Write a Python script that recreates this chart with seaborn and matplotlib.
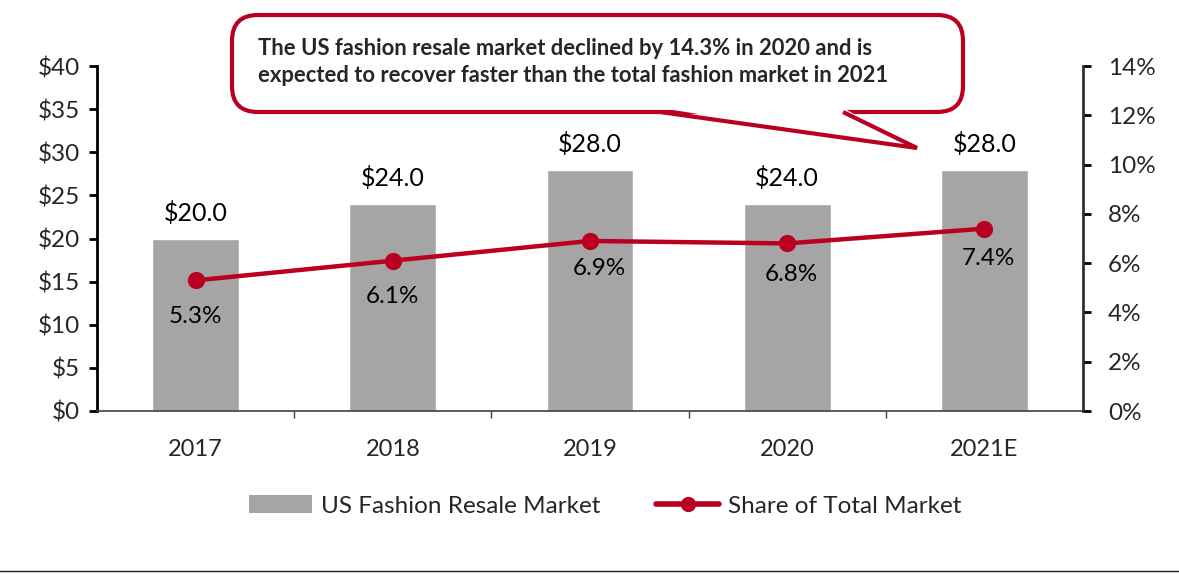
import numpy as np
import pandas as pd
import seaborn as sns
import matplotlib.pyplot as plt
from matplotlib.patches import FancyBboxPatch, Polygon
from matplotlib.lines import Line2D
from matplotlib.patches import Patch
from matplotlib.ticker import FuncFormatter, MultipleLocator, FixedLocator

# --- data ---
years = ["2017", "2018", "2019", "2020", "2021E"]
resale_market = [20.0, 24.0, 28.0, 24.0, 28.0]      # US$ bn
share_of_total = [5.3, 6.1, 6.9, 6.8, 7.4]          # %
callout_text = ("The US fashion resale market declined by 14.3% in 2020 and is\n"
                "expected to recover faster than the total fashion market in 2021")

BAR_COLOR = "#A5A5A5"
RED = "#BA0020"

# label offsets below the points (points), just styling
pct_offsets = [(0, -26), (0, -26), (7, -19.5), (3, -22.5), (3, -21.5)]

sns.set_theme(style="white")
plt.rcParams["font.family"] = ["Lato", "DejaVu Sans"]

W, H = 1179, 574
fig = plt.figure(figsize=(W / 100, H / 100), dpi=100)
ax = fig.add_axes([97 / W, 1 - 411 / H, (1083 - 97) / W, (411 - 66) / H])

df = pd.DataFrame({"year": years, "market": resale_market, "share": share_of_total})

sns.barplot(data=df, x="year", y="market", color=BAR_COLOR, width=0.44,
            saturation=1, ax=ax, zorder=2)
ax.bar_label(ax.containers[0], labels=[f"${v:.1f}" for v in resale_market],
             padding=10, fontsize=18, color="black")

ax.set_ylim(0, 40)
ax.set_xlim(-0.5, 4.5)
ax.yaxis.set_major_locator(MultipleLocator(5))
ax.yaxis.set_major_formatter(FuncFormatter(lambda v, p: f"${v:.0f}"))
ax.set_xlabel("")
ax.set_ylabel("")

ax2 = ax.twinx()
sns.pointplot(data=df, x="year", y="share", color=RED, markers="o",
              markersize=10, linewidth=3.2, ax=ax2)
for i, v in enumerate(share_of_total):
    ax2.annotate(f"{v:.1f}%", (i, v), xytext=pct_offsets[i], textcoords="offset points",
                 ha="center", va="center", fontsize=17.5, color="black")
ax2.set_ylim(0, 14)
ax2.set_xlim(-0.5, 4.5)
ax2.yaxis.set_major_locator(MultipleLocator(2))
ax2.yaxis.set_major_formatter(FuncFormatter(lambda v, p: f"{v:.0f}%"))
ax2.set_ylabel("")
ax2.set_xlabel("")

# spines & ticks
for a in (ax, ax2):
    a.spines["top"].set_visible(False)
ax.spines["right"].set_visible(False)
ax.spines["left"].set_color("black")
ax.spines["left"].set_linewidth(2)
ax.spines["bottom"].set_color("#404040")
ax.spines["bottom"].set_linewidth(1.2)
ax2.spines["left"].set_visible(False)
ax2.spines["bottom"].set_visible(False)
ax2.spines["right"].set_color("#303030")
ax2.spines["right"].set_linewidth(2)

ax.tick_params(axis="y", which="major", direction="out", length=6, width=2,
               color="black", labelsize=17.5, pad=6, left=True)
ax2.tick_params(axis="y", which="major", direction="out", length=6, width=2,
                color="black", labelsize=17.5, pad=12, right=True)
ax.tick_params(axis="x", which="major", length=0, labelsize=17, pad=20)
ax.xaxis.set_minor_locator(FixedLocator([0.5, 1.5, 2.5, 3.5]))
ax.tick_params(axis="x", which="minor", direction="out", length=5, width=1,
               color="#404040", bottom=True)
ax.set_xticks(range(len(years)))
ax.set_xticklabels(years)

# legend
handles = [Patch(facecolor=BAR_COLOR, edgecolor="none"),
           Line2D([0], [0], color=RED, lw=4, marker="o", markersize=10)]
fig.legend(handles, ["US Fashion Resale Market", "Share of Total Market"],
           loc="center", bbox_to_anchor=(605 / W, 1 - 506 / H), ncol=2,
           frameon=False, fontsize=17.5, handlelength=2.6, handletextpad=0.35,
           columnspacing=2.3)

# callout box with a tail
def fx(px):
    return px / W


def fy(py):
    return 1 - py / H


box = FancyBboxPatch((fx(232), fy(112)), fx(963) - fx(232), fy(15) - fy(112),
                     boxstyle="round,pad=0,rounding_size=0.022",
                     transform=fig.transFigure, facecolor="white",
                     edgecolor=RED, linewidth=3, zorder=5,
                     mutation_aspect=W / H)
fig.patches.append(box)
tail_fill = Polygon([(fx(660), fy(108)), (fx(917), fy(148)), (fx(843), fy(108))],
                    closed=True, transform=fig.transFigure, facecolor="white",
                    edgecolor="none", zorder=6)
fig.patches.append(tail_fill)
tail_line = Line2D([fx(660), fx(917), fx(843)], [fy(112), fy(148), fy(112)],
                   transform=fig.transFigure, color=RED, lw=3,
                   solid_joinstyle="miter", solid_capstyle="butt", zorder=7)
fig.lines.append(tail_line)
fig.text(fx(258), fy(62), callout_text, ha="left", va="center",
         fontsize=15.8, fontweight="bold", linespacing=1.3, zorder=8)

# thin rule at the bottom
fig.lines.append(Line2D([0, 1], [fy(571), fy(571)], transform=fig.transFigure,
                        color="#202020", lw=1))

fig.savefig("out.png", dpi=100)
